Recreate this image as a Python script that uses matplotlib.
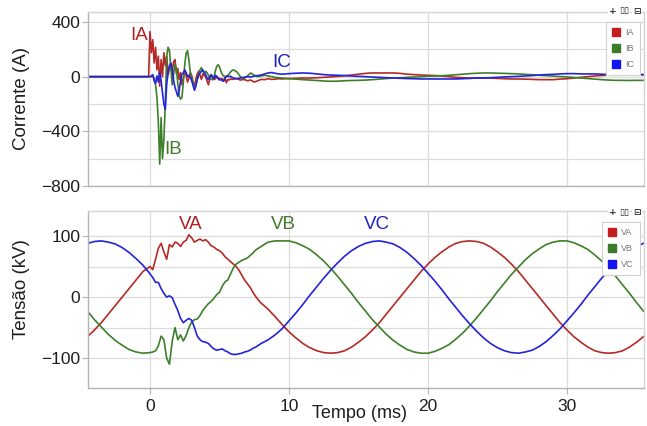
import numpy as np
import matplotlib
matplotlib.use("Agg")
import matplotlib.pyplot as plt
from matplotlib.lines import Line2D

plt.rcParams['font.family'] = ['Liberation Sans', 'DejaVu Sans']

# ---- sample instants (ms) ----
t_v = np.round(np.concatenate([np.arange(-4.5, -0.49, 0.5),
                               np.arange(0.0, 8.001, 0.2),
                               np.arange(8.5, 35.501, 0.5)]), 2)
t_i = np.round(np.concatenate([[-4.5, -0.1],
                               np.arange(0.0, 6.001, 0.1),
                               np.arange(6.25, 10.001, 0.25),
                               np.arange(10.5, 35.501, 0.5)]), 2)

# ---- phase voltages (kV) ----
va = [-65, -54, -42, -28, -14, 0, 14, 28, 42,
      50, 45, 62, 80, 88, 74, 62, 86, 82, 90,
      88, 83, 90, 93, 102, 97, 90, 93, 95, 92,
      94, 90, 84, 82, 78, 76, 72, 66, 62, 58,
      54, 50, 44, 36, 28, 22, 16, 8, 1, -5, -10,
      -20, -32, -45, -57, -67, -76, -83, -88, -91, -92, -91,
      -88, -82, -74, -65, -54, -42, -28, -14, 0, 14,
      28, 42, 54, 65, 74, 82, 88, 91, 92, 91,
      88, 82, 74, 65, 54, 42, 28, 14, 0, -14,
      -28, -42, -54, -65, -74, -82, -88, -91, -92, -91,
      -88, -82, -74, -65]
vb = [-23, -37, -49, -61, -71, -79, -86, -90, -92,
      -91, -90, -88, -80, -64, -70, -100, -110, -72, -50,
      -70, -62, -72, -63, -50, -41, -37, -36, -30, -22,
      -16, -11, -7, -2, 4, 8, 18, 25, 28, 38,
      48, 54, 57, 60, 62, 64, 68, 72, 77, 80, 83,
      90, 92, 92, 92, 89, 84, 78, 69, 59, 47,
      34, 20, 6, -9, -23, -37, -49, -61, -71, -79,
      -86, -90, -92, -92, -89, -84, -78, -69, -59, -47,
      -34, -20, -6, 9, 23, 37, 49, 61, 71, 79,
      86, 90, 92, 92, 89, 84, 78, 69, 59, 47,
      34, 20, 6, -9, -23]
vc = [88, 91, 92, 90, 87, 81, 73, 63, 52,
      38, 32, 24, 24, 14, 6, 0, 2, -1, -12,
      -22, -35, -42, -38, -35, -38, -50, -64, -70, -73,
      -74, -76, -81, -85, -87, -86, -85, -88, -90, -93,
      -94, -94, -93, -92, -90, -89, -87, -84, -82, -79, -76,
      -70, -62, -52, -39, -26, -12, 3, 17, 31, 44,
      56, 67, 76, 83, 88, 91, 92, 90, 87, 81,
      73, 63, 52, 39, 26, 12, -3, -17, -31, -44,
      -56, -67, -76, -83, -88, -91, -92, -90, -87, -81,
      -73, -63, -52, -39, -26, -12, 3, 17, 31, 44,
      56, 67, 76, 83, 88]

# ---- phase currents (A) ----
ia = [0, 0,
      330, 175, 270, 100, 215, 50, 150, -70, 125, 0,
      175, 80, 150, 10, 60, 80, 40, 110, 125, 20,
      60, -20, 30, -60, -10, 40, 10, -40, -10, 30,
      10, -40, -70, -20, 20, 40, 10, -20, 20, 10,
      0, -30, -60, -20, 15, -5, -22, -15, 5, -10,
      -12, -20, -15, -30, -10, -45, -20, -25, -15, -20,
      -18,
      -15, -25, -20, -30, -25, -40, -30, -20, -22, -15, -20, -18, -15, -17, -15, -14,
      -12, -10, -10, -8, -5, -2, 2, 7, 12, 18,
      24, 27, 27, 27, 27, 24, 18, 15, 12, 10,
      8, 5, 0, -5, -8, -10, -10, -8, -10, -13,
      -15, -17, -17, -18, -20, -22, -22, -22, -18, -15,
      -10, -5, 0, 5, 8, 12, 15, 15, 15, 14,
      14]
ib = [0, 0,
      0, 0, 5, -10, -60, -150, -330, -640, -300, -600,
      -460, -200, 150, 215, 190, 60, -60, 20, 90, 60,
      -50, -140, -165, -150, -40, 90, 170, 190, 120, 30,
      -10, -50, -66, -55, -20, 20, 50, 66, 45, 20,
      39, 30, 10, -10, -20, -22, 0, 40, 75, 88,
      70, 40, 15, 5, 0, 5, 10, 20, 35, 45,
      50,
      35, 0, -15, 5, 27, 10, 0, 5, 10, 5, 0, -5, -8, -10, -12, -15,
      -18, -22, -25, -28, -32, -34, -33, -30, -28, -27,
      -25, -22, -18, -14, -10, -8, -5, -2, 0, 3,
      5, 7, 10, 14, 18, 22, 25, 27, 27, 25,
      24, 22, 20, 17, 14, 10, 7, 4, 1, -2,
      -6, -10, -14, -18, -22, -25, -27, -27, -28, -27,
      -27]
ic = [0, 0,
      0, 5, 15, -30, -50, 5, -40, 30, -30, -120,
      -200, -240, -60, 40, 80, 100, 55, -30, -80, -110,
      -144, -100, -30, 20, 27, 50, 30, 0, 10, -5,
      -30, -66, -100, -70, -20, 15, 27, 40, 50, 30,
      15, -10, -22, 0, 15, -5, -15, 10, -5, -15,
      -25, -20, -30, -34, -10, 0, 5, 0, 3, -5,
      -10,
      -15, -10, -5, 0, -3, 5, 8, 12, 20, 27, 30, 25, 20, 18, 20, 22,
      25, 27, 25, 20, 15, 12, 10, 8, 5, 2,
      0, -3, -5, -8, -10, -12, -14, -15, -17, -17,
      -17, -17, -17, -17, -15, -13, -10, -10, -8, -5,
      -2, 0, 2, 5, 8, 12, 15, 17, 20, 22,
      22, 20, 20, 20, 18, 15, 15, 15, 17, 17,
      15]

current_names = ['IA', 'IB', 'IC']
voltage_names = ['VA', 'VB', 'VC']
line_colors = ['#b52a26', '#3e7f2a', '#2323dc']
text_colors = ['#b21f1f', '#437a2c', '#2020c4']
legend_colors = ['#c41e1e', '#3a7a28', '#1414f0']

W, H = 647, 426
fig = plt.figure(figsize=(W / 100, H / 100), dpi=100)
ax1 = fig.add_axes([88 / W, 1 - 186 / H, 556 / W, 174 / H])
ax2 = fig.add_axes([88 / W, 1 - 388 / H, 556 / W, 177 / H])

for ax in (ax1, ax2):
    ax.set_xlim(-4.46, 35.54)
    ax.set_xticks([0, 10, 20, 30])
    ax.grid(True, which='both', color='#dcdcdc', lw=0.9)
    ax.set_axisbelow(True)
    for side in ('top', 'right'):
        ax.spines[side].set_color('#d4d4d4')
    for side in ('left', 'bottom'):
        ax.spines[side].set_color('#b4b4b4')
    for sp in ax.spines.values():
        sp.set_linewidth(1.0)
    ax.tick_params(axis='both', which='major', length=4, color='#b4b4b4',
                   labelsize=12.5, labelcolor='#1e1e1e', pad=1.5)
    ax.tick_params(axis='y', which='minor', length=0)

# currents
for y, c in zip([ia, ib, ic], line_colors):
    ax1.plot(t_i, y, color=c, lw=1.2)
ax1.set_ylim(-800, 473)
ax1.set_yticks([-800, -400, 0, 400])
ax1.set_yticks([-600, -200, 200], minor=True)
ax1.tick_params(axis='x', length=0, labelbottom=False)

# voltages
for y, c in zip([va, vb, vc], line_colors):
    ax2.plot(t_v, y, color=c, lw=1.2)
ax2.set_ylim(-149, 141)
ax2.set_yticks([-100, 0, 100])
ax2.set_yticks([-50, 50], minor=True)
ax2.tick_params(axis='x', pad=4)

# phase tags next to the traces
for name, (tx, ty), c in zip(current_names, [(-0.8, 300), (1.7, -530), (9.45, 106)], text_colors):
    ax1.text(tx, ty, name, color=c, fontsize=13.5, ha='center', va='center')
for name, (tx, ty), c in zip(voltage_names, [(2.9, 119), (9.6, 119), (16.3, 119)], text_colors):
    ax2.text(tx, ty, name, color=c, fontsize=13.5, ha='center', va='center')

# axis titles
fig.text(22 / W, 1 - 99 / H, 'Corrente (A)', rotation=90, ha='center', va='center',
         fontsize=13.5, color='#1e1e1e')
fig.text(22 / W, 1 - 289 / H, 'Tensão (kV)', rotation=90, ha='center', va='center',
         fontsize=13.5, color='#1e1e1e')
fig.text(359 / W, 1 - 414 / H, 'Tempo (ms)', ha='center', va='center',
         fontsize=13, color='#1e1e1e')

# legends with square swatches
def add_legend(ax, names, top_px, ax_top_px, ax_h_px):
    handles = [Line2D([], [], ls='none', marker='s', markersize=5.5,
                      markerfacecolor=c, markeredgecolor=c) for c in legend_colors]
    leg = ax.legend(handles, names, loc='upper right',
                    bbox_to_anchor=(640 / 556 - 88 / 556, 1 - (top_px - ax_top_px) / ax_h_px),
                    borderaxespad=0, fontsize=6.5, frameon=True, fancybox=False,
                    framealpha=1, edgecolor='#d0d0d0', handlelength=0.8,
                    handletextpad=0.6, labelspacing=0.75, borderpad=0.7)
    for txt in leg.get_texts():
        txt.set_color('#777777')
    leg.get_frame().set_linewidth(0.8)

add_legend(ax1, current_names, 22, 12, 174)
add_legend(ax2, voltage_names, 222, 211, 177)

# small toolbar glyphs above each legend
for top in (11, 212):
    for x, g in [(613, '+'), (624, '▯▯'), (637, '⊟')]:
        fig.text(x / W, 1 - top / H, g, ha='center', va='center', fontsize=6.5,
                 color='#333333', family='DejaVu Sans', fontweight='bold',
                 bbox=dict(boxstyle='square,pad=0.1', fc='white', ec='none'))

fig.savefig('out.png', dpi=100)
